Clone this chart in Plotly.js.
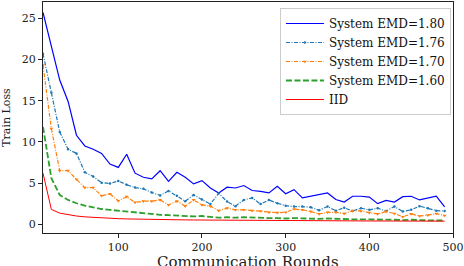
<!DOCTYPE html>
<html>
<head>
<meta charset="utf-8">
<script src="https://cdn.plot.ly/plotly-3.0.1.min.js"></script>
<style>html,body{margin:0;padding:0;background:#fff;} #chart{width:464px;height:266px;}</style>
</head>
<body>
<div id="chart"></div>
<script>
const rounds = [10,20,30,40,50,60,70,80,90,100,110,120,130,140,150,160,170,180,190,200,
  210,220,230,240,250,260,270,280,290,300,310,320,330,340,350,360,370,380,390,400,
  410,420,430,440,450,460,470,480,490];

const emd180 = [25.7,21.6,17.5,14.9,10.8,9.5,9.1,8.6,7.3,6.9,8.5,6.2,5.7,5.5,6.5,5.2,6.3,5.7,4.9,5.3,
  4.4,3.8,4.5,4.4,4.7,4.1,4.0,3.8,4.6,3.7,4.2,3.2,3.4,3.6,3.8,3.0,2.7,3.4,3.4,3.3,
  2.5,2.9,2.7,3.35,3.4,2.95,3.15,3.4,2.1];

const emd176 = [20.7,16.0,11.2,9.1,8.6,6.3,5.8,5.05,4.95,5.25,4.8,4.45,4.3,3.85,3.5,4.05,3.45,2.8,3.55,3.0,
  2.45,3.75,2.75,2.2,2.95,3.2,2.45,2.95,2.55,2.25,2.15,2.15,2.05,1.7,2.15,1.65,2.0,1.6,1.95,1.75,
  1.95,1.6,2.15,1.55,1.75,2.2,1.95,1.65,1.6];

const emd170 = [19.3,11.6,6.5,6.5,5.45,4.45,4.45,3.45,3.7,2.85,3.35,2.65,2.8,2.8,2.95,2.35,2.8,2.2,2.95,2.35,
  2.2,1.65,1.95,1.75,1.75,1.65,1.6,1.45,1.4,1.45,1.85,1.75,1.55,1.25,1.45,1.45,1.3,1.65,1.6,1.4,
  1.25,1.55,1.3,0.9,1.25,1.0,1.1,1.3,1.05];

const emd160 = [11.8,5.6,3.55,2.95,2.55,2.25,2.05,1.85,1.75,1.65,1.5,1.4,1.35,1.25,1.15,1.1,1.05,1.0,0.95,1.0,
  0.9,0.8,0.85,0.8,0.85,0.8,0.8,0.75,0.75,0.7,0.75,0.7,0.7,0.65,0.7,0.65,0.65,0.6,0.6,0.6,
  0.55,0.6,0.55,0.5,0.55,0.5,0.5,0.5,0.45];

const iid = [6.2,1.8,1.35,1.13,1.0,0.9,0.83,0.77,0.72,0.68,0.65,0.62,0.6,0.58,0.56,0.55,0.54,0.53,0.52,0.51,
  0.5,0.49,0.48,0.48,0.47,0.46,0.46,0.45,0.45,0.44,0.44,0.43,0.43,0.42,0.42,0.42,0.41,0.41,0.41,0.4,
  0.4,0.4,0.39,0.39,0.39,0.38,0.38,0.38,0.38];

const seriesNames = ["System EMD=1.80","System EMD=1.76","System EMD=1.70","System EMD=1.60","IID"];
const xTicks = [100,200,300,400,500];
const yTicks = [0,5,10,15,20,25];
const xTitle = "Communication Rounds";
const yTitle = "Train Loss";

const serif = "DejaVu Serif";

const traces = [
  {x: rounds, y: emd180, name: seriesNames[0], mode: "lines",
   line: {color: "#0000ff", width: 1.2}},
  {x: rounds, y: emd176, name: seriesNames[1], mode: "lines+markers",
   line: {color: "#1f77b4", width: 1.2, dash: "4px,1.5px,1px,1.5px"},
   marker: {symbol: "circle", size: 2.5, color: "#1f77b4"}},
  {x: rounds, y: emd170, name: seriesNames[2], mode: "lines+markers",
   line: {color: "#ff7f0e", width: 1.2, dash: "4px,1.5px,1px,1.5px"},
   marker: {symbol: "triangle-down", size: 3.5, color: "#ff7f0e"}},
  {x: rounds, y: emd160, name: seriesNames[3], mode: "lines",
   line: {color: "#2ca02c", width: 1.8, dash: "6px,2.5px"}},
  {x: rounds, y: iid, name: seriesNames[4], mode: "lines",
   line: {color: "#ff0000", width: 1}}
];

const axisCommon = {
  showline: true, mirror: true, linecolor: "#222", linewidth: 1,
  ticks: "outside", ticklen: 4, tickcolor: "#222", tickwidth: 1,
  showgrid: false, zeroline: false,
  tickfont: {family: serif, size: 11, color: "#222"}
};

const layout = {
  width: 464, height: 266,
  margin: {l: 43, r: 11, t: 2, b: 33},
  paper_bgcolor: "#fff", plot_bgcolor: "#fff",
  showlegend: true,
  legend: {
    x: 0.995, xanchor: "right", y: 0.974, yanchor: "top",
    bgcolor: "rgba(255,255,255,0.9)", bordercolor: "#ccc", borderwidth: 1,
    font: {family: serif, size: 12, color: "#111"},
    itemwidth: 38,
    tracegroupgap: 0
  },
  xaxis: Object.assign({}, axisCommon, {
    range: [10, 500], tickvals: xTicks, ticktext: xTicks.map(String)
  }),
  yaxis: Object.assign({}, axisCommon, {
    range: [-1.06, 26.97], tickvals: yTicks, ticktext: yTicks.map(String),
    title: {text: yTitle, font: {family: serif, size: 11, color: "#222"}, standoff: 8}
  }),
  annotations: [{
    text: xTitle, xref: "paper", yref: "paper", x: 0.5, y: -0.1255,
    xanchor: "center", yanchor: "middle", showarrow: false,
    font: {family: serif, size: 15, color: "#222"}
  }]
};

Plotly.newPlot("chart", traces, layout, {displayModeBar: false, staticPlot: true});
</script>
</body>
</html>
